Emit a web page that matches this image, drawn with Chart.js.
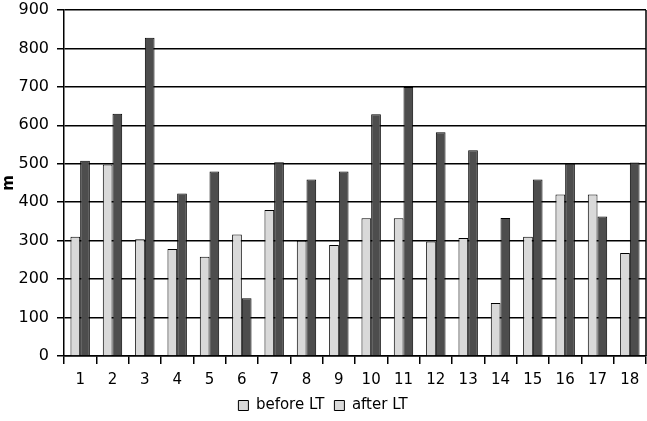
<!DOCTYPE html>
<html>
<head>
<meta charset="utf-8">
<script src="https://cdn.jsdelivr.net/npm/chart.js@4"></script>
<style>
  html, body { margin: 0; padding: 0; background: #fff; }
  #wrap { width: 647px; height: 421px; }
</style>
</head>
<body>
<div id="wrap"><canvas id="chart" width="647" height="421"></canvas></div>
<script>
// Patient numbers and distances (m) before / after LT
const categories = ["1","2","3","4","5","6","7","8","9","10","11","12","13","14","15","16","17","18"];
const beforeLT = [310, 498, 304, 278, 258, 316, 380, 300, 289, 358, 358, 298, 307, 138, 310, 420, 420, 268];
const afterLT = [508, 630, 828, 423, 480, 150, 504, 459, 480, 629, 700, 582, 535, 359, 459, 500, 363, 503];
const yTicks = [0, 100, 200, 300, 400, 500, 600, 700, 800, 900];

const lightGray = "#d9d9d9";
const darkGray = "#4d4d4d";
const fontFamily = "'DejaVu Sans', sans-serif";

// right edge of the plot frame
const frameRight = {
  id: "frameRight",
  afterDraw(chart) {
    const { ctx, chartArea } = chart;
    ctx.save();
    ctx.strokeStyle = "#000";
    ctx.lineWidth = 1.5;
    ctx.beginPath();
    ctx.moveTo(chartArea.right, chartArea.top);
    ctx.lineTo(chartArea.right, chartArea.bottom);
    ctx.stroke();
    ctx.restore();
  }
};

new Chart(document.getElementById("chart"), {
  type: "bar",
  data: {
    labels: categories,
    datasets: [
      {
        label: "before LT",
        data: beforeLT,
        backgroundColor: lightGray,
        borderColor: "#000",
        borderWidth: 1,
        borderSkipped: "bottom"
      },
      {
        label: "after LT",
        data: afterLT,
        backgroundColor: darkGray,
        borderColor: "#000",
        borderWidth: 1,
        borderSkipped: "bottom"
      }
    ]
  },
  options: {
    responsive: false,
    animation: false,
    layout: { padding: { top: 10, right: 1, left: 0, bottom: -2 } },
    datasets: {
      bar: { categoryPercentage: 0.6, barPercentage: 1.0 }
    },
    plugins: {
      tooltip: { enabled: false },
      legend: {
        position: "bottom",
        labels: {
          color: "#000",
          font: { family: fontFamily, size: 15 },
          boxWidth: 10,
          boxHeight: 10,
          padding: 10,
          // the original legend shows both swatches in light gray
          generateLabels(chart) {
            return chart.data.datasets.map((ds, i) => ({
              text: ds.label,
              fillStyle: lightGray,
              strokeStyle: "#000",
              lineWidth: 1,
              fontColor: "#000",
              datasetIndex: i
            }));
          }
        }
      }
    },
    scales: {
      x: {
        offset: true,
        grid: {
          offset: true,
          drawOnChartArea: false,
          drawTicks: true,
          tickLength: 8,
          color: "#000",
          lineWidth: 1.5
        },
        border: { color: "#000", width: 1.5 },
        ticks: {
          color: "#000",
          font: { family: fontFamily, size: 15 },
          padding: 7,
          maxRotation: 0,
          autoSkip: false
        },
        afterFit(scale) {
          scale.height = 32;
          scale.paddingLeft = 0;
          scale.paddingRight = 0;
        }
      },
      y: {
        min: 0,
        max: 900,
        afterBuildTicks(scale) { scale.ticks = yTicks.map(v => ({ value: v })); },
        grid: {
          color: "#000",
          lineWidth: 1.5,
          tickLength: 7
        },
        border: { color: "#000", width: 1.5 },
        ticks: {
          color: "#000",
          font: { family: fontFamily, size: 16 },
          padding: 8
        },
        title: {
          display: true,
          text: "m",
          color: "#000",
          font: { family: fontFamily, size: 15, weight: "bold" },
          padding: 0
        },
        afterFit(scale) {
          scale.width = 64;
          scale.paddingTop = 0;
          scale.paddingBottom = 0;
        }
      }
    }
  },
  plugins: [frameRight]
});
</script>
</body>
</html>
